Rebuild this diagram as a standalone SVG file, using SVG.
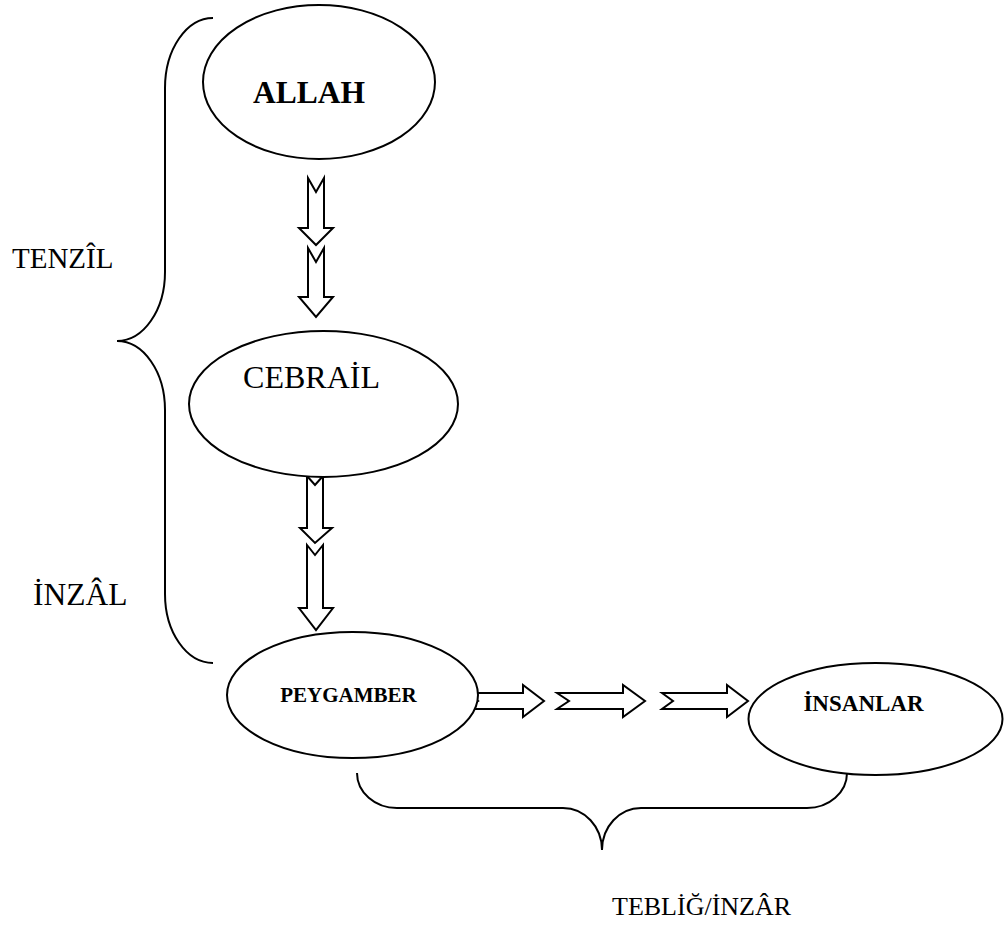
<svg xmlns="http://www.w3.org/2000/svg" width="1004" height="947" viewBox="0 0 1004 947">
<style>
.node{fill:#fff;stroke:#000;stroke-width:2}
.arr{fill:#fff;stroke:#000;stroke-width:2;stroke-linejoin:miter}
.brace{fill:none;stroke:#000;stroke-width:2}
.t{font-family:"Liberation Serif","Times New Roman",serif;fill:#000}
.b{font-weight:bold}
</style>
<rect width="1004" height="947" fill="#fff"/>
<g id="connectors">
<polygon class="arr" points="308,178 316,192 324,178 324,228 333,228 316,245 299,228 308,228"/>
<polygon class="arr" points="308,248 316,262 324,248 324,297 333,297 316,317 299,297 308,297"/>
<polygon class="arr" points="307,476 315,485 323,476 323,528 332,528 315,543 300,528 307,528"/>
<polygon class="arr" points="307,545 315,555 323,545 323,608 333,608 316,630 299,608 307,608"/>
<polygon class="arr" points="466,693 478,701 466,709 523,709 523,717 544,701 523,685 523,693"/>
<polygon class="arr" points="557,693 569,701 557,709 623,709 623,717 645,701 623,685 623,693"/>
<polygon class="arr" points="662,693 673,701 662,709 727,709 727,717 748,701 727,685 727,693"/>
</g>
<g id="brace-left">
<path class="brace" d="M213,18 A48,70 0 0 0 165,88 L165,272 A48,69 0 0 1 117,341 A48,69 0 0 1 165,410 L165,594 A48,69 0 0 0 213,663"/>
</g>
<g id="brace-bottom">
<path class="brace" d="M357,773 A40,35 0 0 0 397,808 L563,808 A39,42 0 0 1 602,850 A39,42 0 0 1 641,808 L807,808 A40,35 0 0 0 847,773"/>
</g>
<g id="allah">
<ellipse class="node" cx="319" cy="82" rx="116" ry="77"/>
<text class="t b" x="309" y="103" font-size="31.5" text-anchor="middle">ALLAH</text>
</g>
<g id="cebrail">
<ellipse class="node" cx="323.5" cy="404" rx="134.5" ry="73"/>
<text class="t" x="311.5" y="388" font-size="32" text-anchor="middle">CEBRAİL</text>
</g>
<g id="peygamber">
<ellipse class="node" cx="352.5" cy="695" rx="125.5" ry="63"/>
<text class="t b" x="348.5" y="702" font-size="21" text-anchor="middle">PEYGAMBER</text>
</g>
<g id="insanlar">
<ellipse class="node" cx="875.5" cy="719" rx="127" ry="56"/>
<text class="t b" x="863.5" y="711" font-size="23" text-anchor="middle">İNSANLAR</text>
</g>
<g id="labels">
<text class="t" x="12" y="268" font-size="29">TENZÎL</text>
<text class="t" x="33" y="605" font-size="31.5">İNZÂL</text>
<text class="t" x="612" y="915" font-size="26">TEBLİĞ/İNZÂR</text>
</g>
</svg>
